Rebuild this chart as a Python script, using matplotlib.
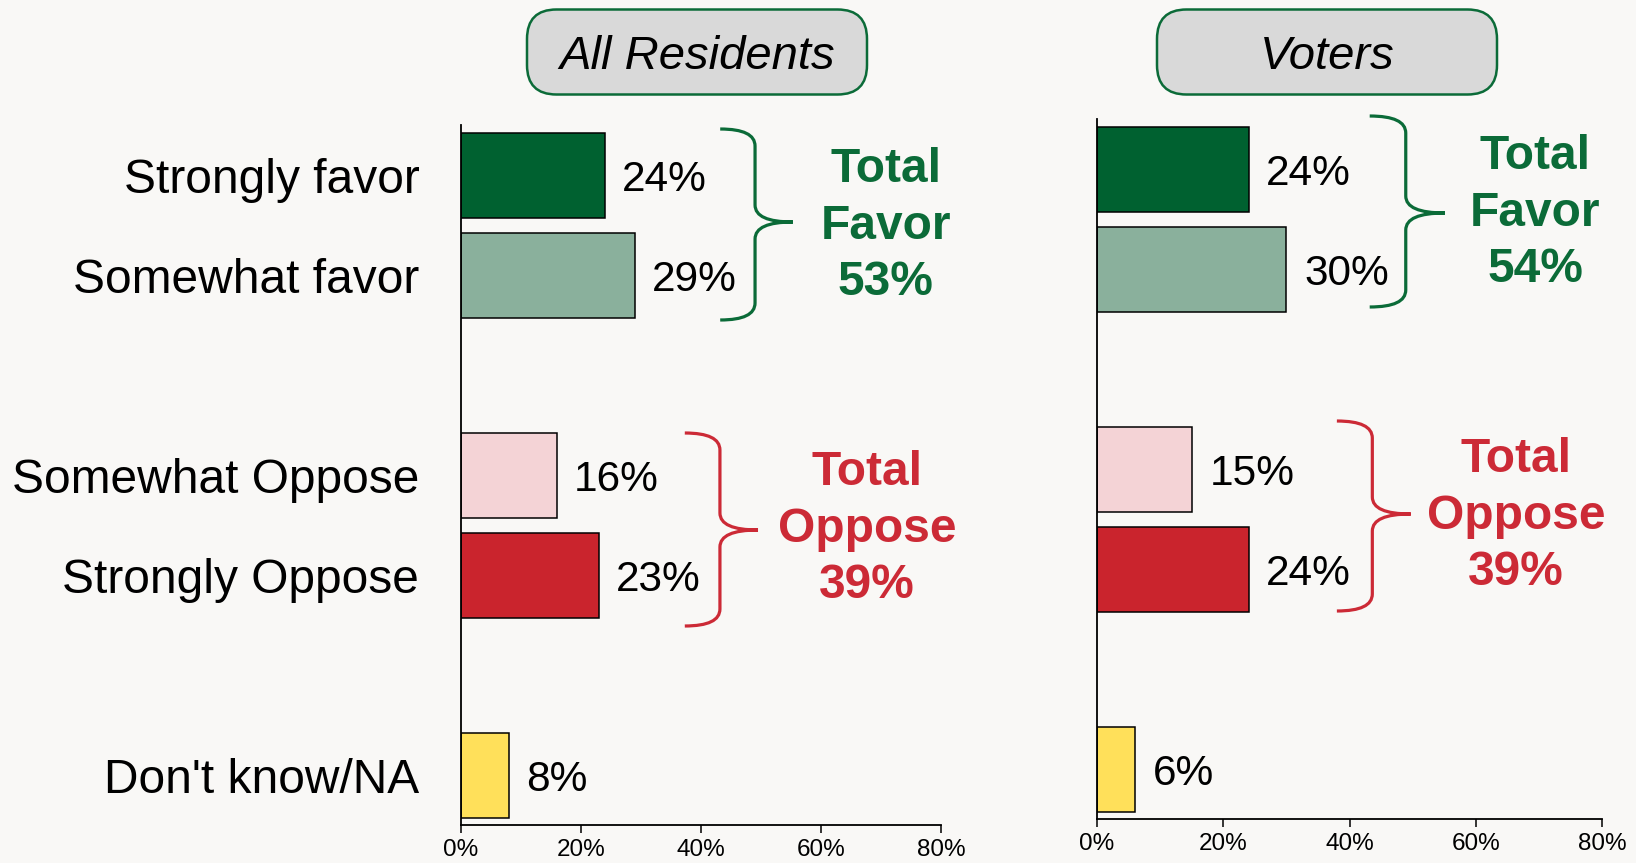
import matplotlib
matplotlib.use("Agg")
import matplotlib.pyplot as plt
from matplotlib.path import Path
from matplotlib.patches import PathPatch, FancyBboxPatch

plt.rcParams['font.family'] = ['Liberation Sans', 'DejaVu Sans']

categories = ["Strongly favor", "Somewhat favor", "Somewhat Oppose", "Strongly Oppose", "Don't know/NA"]
positions = [0, 1, 3, 4, 6]
residents = [24, 29, 16, 23, 8]
voters = [24, 30, 15, 24, 6]
panel_titles = ["All Residents", "Voters"]
totals_residents = {"favor": 53, "oppose": 39}
totals_voters = {"favor": 54, "oppose": 39}
xticks = [0, 20, 40, 60, 80]
xticklabels = ["0%", "20%", "40%", "60%", "80%"]

colors = ["#006130", "#8AB09C", "#F4D3D6", "#CA242D", "#FFE05A"]
GREEN = "#0B6B38"
RED = "#CC2A36"
BG = "#F9F8F6"

W, H = 1636, 863
fig = plt.figure(figsize=(W / 100, H / 100), dpi=100, facecolor=BG)


def brace(ax, x0, x1, y0, ym, y1, color):
    xm = x0 + 0.48 * (x1 - x0)
    r = 0.17
    verts = [(x0, y0), (xm, y0), (xm, y0 + r),
             (xm, ym - r), (xm, ym), (x1, ym),
             (xm, ym), (xm, ym + r),
             (xm, y1 - r), (xm, y1), (x0, y1)]
    codes = [Path.MOVETO, Path.CURVE3, Path.CURVE3,
             Path.LINETO, Path.CURVE3, Path.CURVE3,
             Path.CURVE3, Path.CURVE3,
             Path.LINETO, Path.CURVE3, Path.CURVE3]
    ax.add_patch(PathPatch(Path(verts, codes), facecolor='none', edgecolor=color,
                           lw=2.3, clip_on=False, capstyle='butt'))


def panel(rect, values, totals, title, title_center, show_labels, fav, opp):
    ax = fig.add_axes(rect)
    ax.set_facecolor(BG)
    ax.barh(positions, values, height=0.85, color=colors, edgecolor='black', linewidth=1.1)
    ax.set_xlim(0, 80)
    ax.set_ylim(6.5, -0.5)
    for s in ['top', 'right']:
        ax.spines[s].set_visible(False)
    for s in ['left', 'bottom']:
        ax.spines[s].set_linewidth(1.3)
    ax.set_xticks(xticks)
    ax.set_xticklabels(xticklabels, fontsize=17.5)
    ax.tick_params(axis='x', length=6, width=1.1, pad=4)
    if show_labels:
        ax.set_yticks(positions)
        ax.set_yticklabels(categories, fontsize=34.5)
        ax.tick_params(axis='y', length=0, pad=30)
    else:
        ax.set_yticks([])
    for p, v in zip(positions, values):
        ax.text(v + 2.8, p, f"{v}%", va='center_baseline', ha='left', fontsize=30.5)
    # braces and totals
    bx0, bx1, by0, bym, by1, tx, ty = fav
    brace(ax, bx0, bx1, by0, bym, by1, GREEN)
    ax.text(tx, ty, f"Total\nFavor\n{totals['favor']}%", color=GREEN, fontsize=34.5,
            fontweight='bold', ha='center', va='center', linespacing=1.33)
    bx0, bx1, by0, bym, by1, tx, ty = opp
    brace(ax, bx0, bx1, by0, bym, by1, RED)
    ax.text(tx, ty, f"Total\nOppose\n{totals['oppose']}%", color=RED, fontsize=34.5,
            fontweight='bold', ha='center', va='center', linespacing=1.33)
    # header box
    cx, cy = title_center
    bw, bh = 340, 85
    box = FancyBboxPatch(((cx - bw / 2) / W, (H - cy - bh / 2) / H), bw / W, bh / H,
                         boxstyle="round,pad=0,rounding_size=0.018",
                         transform=fig.transFigure, facecolor="#D9D9D9",
                         edgecolor=GREEN, linewidth=1.8, mutation_aspect=W / H)
    fig.patches.append(box)
    fig.text(cx / W, (H - cy - 5) / H, title, fontsize=34, style='italic',
             ha='center', va='center')
    return ax


panel([461 / W, (H - 825) / H, 480 / W, 700 / H], residents, totals_residents,
      panel_titles[0], (697, 52), True,
      (43.2, 55.3, -0.46, 0.47, 1.45, 70.8, 0.51),
      (37.3, 49.5, 2.58, 3.55, 4.51, 67.7, 3.54))
panel([1097 / W, (H - 819) / H, 505 / W, 700 / H], voters, totals_voters,
      panel_titles[1], (1327, 52), False,
      (43.2, 55.1, -0.53, 0.44, 1.38, 69.4, 0.44),
      (38.0, 49.7, 2.52, 3.45, 4.42, 66.4, 3.47))

fig.savefig("out.png", dpi=100, facecolor=BG)
